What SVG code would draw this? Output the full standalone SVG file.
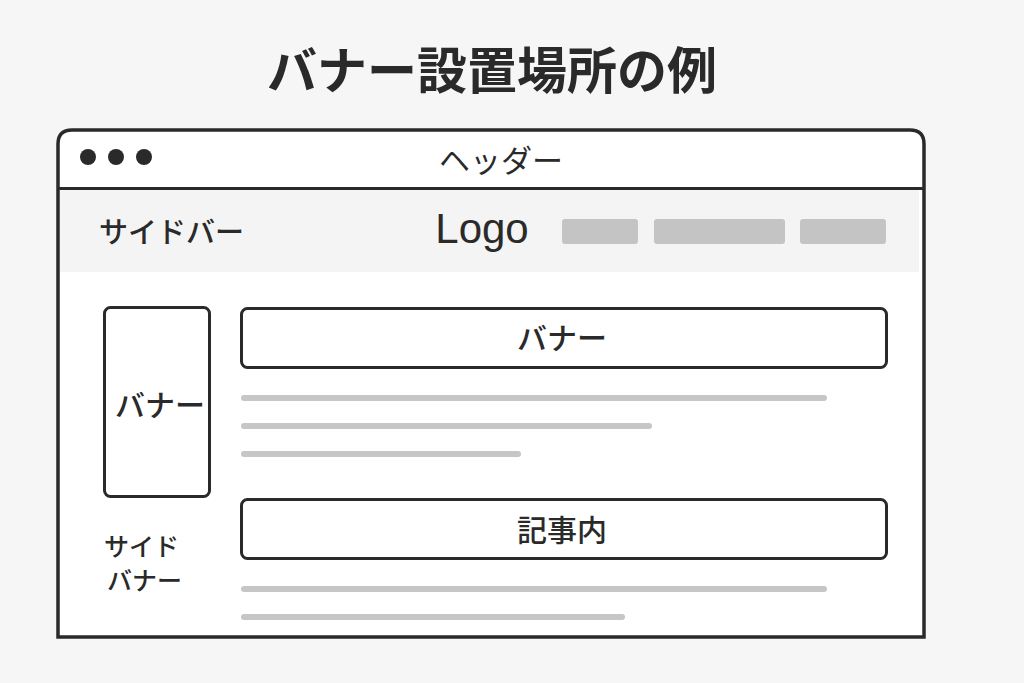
<svg xmlns="http://www.w3.org/2000/svg" width="1024" height="683" viewBox="0 0 1024 683">
<style>
text{font-family:"Noto Sans CJK JP","Noto Sans",sans-serif;fill:#2a2a2a}
.box{fill:#fff;stroke:#2a2a2a;stroke-width:3}
.line{stroke:#c6c6c6;stroke-width:6;stroke-linecap:round}
.nav{fill:#c4c4c4}
.lbl{font-size:30px;font-weight:500;text-anchor:middle}
</style>
<rect width="1024" height="683" fill="#f6f6f6"/>
<text x="492" y="89" style="font-size:50px;font-weight:700;text-anchor:middle">バナー設置場所の例</text>
<g id="browser">
<path d="M58,637 V144 Q58,130 72,130 H910 Q924,130 924,144 V637 Z" fill="#fff" stroke="#2a2a2a" stroke-width="3.5"/>
<rect x="60" y="189" width="859" height="83" fill="#f4f4f4"/>
<line x1="58" y1="188.5" x2="924" y2="188.5" stroke="#2a2a2a" stroke-width="3"/>
<circle cx="88" cy="157" r="8" fill="#2a2a2a"/>
<circle cx="116" cy="157" r="8" fill="#2a2a2a"/>
<circle cx="144" cy="157" r="8" fill="#2a2a2a"/>
<text x="501" y="172" style="font-size:31px;text-anchor:middle">ヘッダー</text>
</g>
<g id="navbar">
<text x="99" y="243" style="font-size:29px;font-weight:500">サイドバー</text>
<text x="482" y="243" style="font-family:'Liberation Sans',Arial,sans-serif;font-size:42px;text-anchor:middle">Logo</text>
<rect class="nav" x="562" y="219" width="76" height="25" rx="3"/>
<rect class="nav" x="654" y="219" width="131" height="25" rx="3"/>
<rect class="nav" x="800" y="219" width="86" height="25" rx="3"/>
</g>
<g id="side-banner">
<rect class="box" x="104.5" y="307.5" width="105" height="189" rx="6"/>
<text class="lbl" x="160" y="416">バナー</text>
</g>
<g id="top-banner">
<rect class="box" x="241.5" y="308.5" width="645" height="59" rx="6"/>
<text class="lbl" x="562" y="349">バナー</text>
</g>
<g id="article-banner">
<rect class="box" x="241.5" y="499.5" width="645" height="59" rx="6"/>
<text class="lbl" x="562" y="541">記事内</text>
</g>
<g id="side-label">
<text x="104" y="556" style="font-size:25px;font-weight:500">サイド</text>
<text x="107" y="590" style="font-size:25px;font-weight:500">バナー</text>
</g>
<g id="text-lines">
<line class="line" x1="244" y1="398" x2="824" y2="398"/>
<line class="line" x1="244" y1="426" x2="649" y2="426"/>
<line class="line" x1="244" y1="454" x2="518" y2="454"/>
<line class="line" x1="244" y1="589" x2="824" y2="589"/>
<line class="line" x1="244" y1="617" x2="622" y2="617"/>
</g>
</svg>
